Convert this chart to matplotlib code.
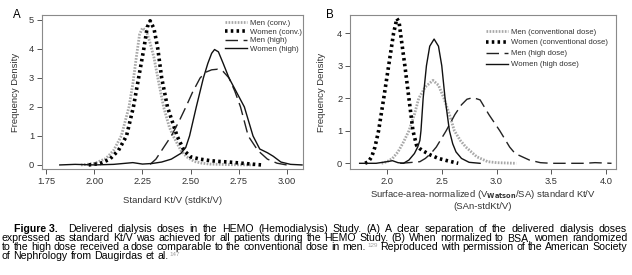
import matplotlib
matplotlib.use('Agg')
import matplotlib.pyplot as plt

plt.rcParams['font.family'] = ['Liberation Sans', 'DejaVu Sans']
plt.rcParams['mathtext.default'] = 'regular'

# ---- Panel A: standard Kt/V ----
a_men_conv_x = [1.93, 2.00, 2.06, 2.10, 2.14, 2.18, 2.20, 2.22, 2.235, 2.25, 2.27, 2.29,
                2.31, 2.33, 2.36, 2.39, 2.41, 2.45, 2.48, 2.52, 2.56, 2.60, 2.70, 2.83]
a_men_conv_y = [0.00, 0.05, 0.22, 0.50, 1.00, 2.00, 2.80, 3.80, 4.50, 4.72, 4.62, 4.20,
                3.70, 3.00, 2.00, 1.30, 1.00, 0.50, 0.28, 0.12, 0.06, 0.03, 0.01, 0.00]
a_women_conv_x = [1.97, 2.03, 2.08, 2.125, 2.167, 2.203, 2.23, 2.257, 2.275, 2.29, 2.31, 2.33,
                  2.35, 2.38, 2.43, 2.466, 2.50, 2.55, 2.60, 2.65, 2.70, 2.75, 2.80, 2.87]
a_women_conv_y = [0.00, 0.05, 0.20, 0.50, 1.00, 2.00, 3.00, 4.00, 4.75, 4.97, 4.70, 4.00,
                  3.00, 2.00, 1.00, 0.50, 0.28, 0.20, 0.15, 0.12, 0.10, 0.07, 0.04, 0.00]
a_men_high_x = [2.29, 2.32, 2.35, 2.40, 2.44, 2.476, 2.51, 2.55, 2.58, 2.61, 2.64, 2.67,
                2.70, 2.73, 2.76, 2.80, 2.85, 2.90, 2.95, 3.00]
a_men_high_y = [0.02, 0.20, 0.50, 1.00, 1.50, 2.00, 2.50, 3.00, 3.20, 3.28, 3.30, 3.22,
                3.00, 2.55, 2.00, 1.00, 0.50, 0.20, 0.06, 0.00]
a_women_high_x = [1.82, 1.90, 2.00, 2.10, 2.20, 2.25, 2.30, 2.35, 2.40, 2.45, 2.475, 2.495,
                  2.53, 2.567, 2.59, 2.61, 2.625, 2.645, 2.67, 2.70, 2.74, 2.78, 2.825, 2.86,
                  2.90, 2.93, 2.97, 3.02, 3.08]
a_women_high_y = [0.00, 0.02, 0.00, 0.02, 0.08, 0.03, 0.05, 0.10, 0.20, 0.40, 0.60, 1.00,
                  2.00, 3.00, 3.50, 3.85, 3.98, 3.90, 3.50, 3.00, 2.50, 2.00, 1.00, 0.55,
                  0.42, 0.30, 0.10, 0.02, 0.00]
a_labels = ['Men (conv.)', 'Women (conv.)', 'Men (high)', 'Women (high)']
a_xticks = [1.75, 2.00, 2.25, 2.50, 2.75, 3.00]
a_yticks = [0, 1, 2, 3, 4, 5]

# ---- Panel B: surface-area-normalized Kt/V ----
b_men_conv_x = [1.95, 2.00, 2.05, 2.10, 2.15, 2.20, 2.25, 2.29, 2.35, 2.42, 2.47, 2.52,
                2.57, 2.615, 2.67, 2.72, 2.82, 2.92, 3.00, 3.18]
b_men_conv_y = [0.00, 0.05, 0.15, 0.35, 0.65, 1.00, 1.50, 2.00, 2.35, 2.55, 2.40, 2.00,
                1.50, 1.00, 0.70, 0.50, 0.20, 0.05, 0.02, 0.00]
b_women_conv_x = [1.80, 1.83, 1.86, 1.89, 1.923, 1.97, 2.015, 2.06, 2.09, 2.11, 2.123, 2.163,
                  2.20, 2.237, 2.27, 2.30, 2.33, 2.40, 2.47, 2.55, 2.65]
b_women_conv_y = [0.00, 0.05, 0.20, 0.50, 1.00, 2.00, 3.00, 4.00, 4.45, 4.35, 4.00, 3.00,
                  2.00, 1.00, 0.55, 0.45, 0.38, 0.25, 0.15, 0.08, 0.00]
b_men_high_x = [2.12, 2.20, 2.30, 2.35, 2.40, 2.45, 2.54, 2.62, 2.68, 2.73, 2.785, 2.85,
                2.93, 3.03, 3.12, 3.17, 3.30, 3.40, 3.50, 3.80, 3.90, 4.05]
b_men_high_y = [0.00, 0.02, 0.05, 0.15, 0.30, 0.50, 1.00, 1.50, 1.80, 1.97, 2.02, 1.95,
                1.50, 1.00, 0.50, 0.30, 0.10, 0.02, 0.00, 0.00, 0.02, 0.00]
b_women_high_x = [1.75, 1.90, 2.00, 2.05, 2.10, 2.15, 2.20, 2.25, 2.28, 2.30, 2.31, 2.33,
                  2.36, 2.39, 2.43, 2.47, 2.50, 2.53, 2.57, 2.60, 2.63, 2.68, 2.75, 2.85]
b_women_high_y = [0.00, 0.00, 0.05, 0.08, 0.02, 0.00, 0.10, 0.30, 0.50, 0.70, 1.00, 2.00,
                  3.00, 3.60, 3.82, 3.60, 3.00, 2.00, 1.00, 0.60, 0.35, 0.15, 0.03, 0.00]
b_labels = ['Men (conventional dose)', 'Women (conventional dose)',
            'Men (high dose)', 'Women (high dose)']
b_xticks = [2.0, 2.5, 3.0, 3.5, 4.0]
b_yticks = [0, 1, 2, 3, 4]

# caption runs: (text, style) -> style in normal / bold / sup
caption_lines = [
    [('Figure 3.', 'bold'), ('Delivered dialysis doses in the HEMO (Hemodialysis) Study. (A) A clear '
                             'separation of the delivered dialysis doses', 'normal')],
    [('expressed as standard Kt/V was achieved for all patients during the HEMO Study. (B) When '
      'normalized to BSA, women randomized', 'normal')],
    [('to the high dose received a dose comparable to the conventional dose in men.', 'normal'),
     ('129', 'sup'), ('Reproduced with permission of the American Society', 'normal')],
    [('of Nephrology from Daugirdas et al.', 'normal'), ('147', 'sup')],
]

W, H = 632, 275
STYLES = [
    dict(color='#a8a8a8', lw=2.0, ls=(0, (0.6, 0.5))),
    dict(color='black', lw=2.6, ls=(0, (0.7, 0.9))),
    dict(color='#222222', lw=1.0, ls=(0, (9, 4))),
    dict(color='#111111', lw=1.0, ls='-'),
]


def style_axes(ax, xticks, yticks, xlim, ylim):
    ax.set_xlim(*xlim)
    ax.set_ylim(*ylim)
    ax.set_xticks(xticks)
    ax.set_yticks(yticks)
    for s in ax.spines.values():
        s.set_color('#8a8a8a')
        s.set_linewidth(0.8)
    ax.tick_params(length=3.5, width=0.7, color='#555555', labelsize=6.7,
                   labelcolor='#333333', pad=2)


def add_legend(ax, anchor, spacing):
    ax.legend(loc='upper left', bbox_to_anchor=anchor, frameon=False, fontsize=5.6,
              handlelength=2.8, handletextpad=0.4, labelspacing=spacing,
              borderaxespad=0, borderpad=0, labelcolor='#333333')


fig = plt.figure(figsize=(W / 100, H / 100), dpi=100)

# Panel A
axA = fig.add_axes([41.7 / W, 1 - 169 / H, 261.3 / W, 154 / H])
series_a = [(a_men_conv_x, a_men_conv_y), (a_women_conv_x, a_women_conv_y),
            (a_men_high_x, a_men_high_y), (a_women_high_x, a_women_high_y)]
for (xs, ys), st, lab in zip(series_a, STYLES, a_labels):
    axA.plot(xs, ys, label=lab, **st)
style_axes(axA, a_xticks, a_yticks, (1.726, 3.085), (-0.14, 5.17))
axA.xaxis.set_major_formatter(plt.FuncFormatter(lambda v, p: f'{v:.2f}'))
axA.set_ylabel('Frequency Density', fontsize=6.8, color='#333333', labelpad=6)
axA.set_xlabel('Standard Kt/V (stdKt/V)', fontsize=6.8, color='#333333', labelpad=7.5)
add_legend(axA, (0.701, 0.971), 0.17)

# Panel B
axB = fig.add_axes([350 / W, 1 - 169 / H, 266 / W, 154 / H])
series_b = [(b_men_conv_x, b_men_conv_y), (b_women_conv_x, b_women_conv_y),
            (b_men_high_x, b_men_high_y), (b_women_high_x, b_women_high_y)]
for (xs, ys), st, lab in zip(series_b, STYLES, b_labels):
    axB.plot(xs, ys, label=lab, **st)
style_axes(axB, b_xticks, b_yticks, (1.662, 4.091), (-0.175, 4.56))
axB.xaxis.set_major_formatter(plt.FuncFormatter(lambda v, p: f'{v:.1f}'))
axB.set_ylabel('Frequency Density', fontsize=6.8, color='#333333', labelpad=8)
axB.set_xlabel('Surface-area-normalized (V$_{\\bf Watson}$/SA) standard Kt/V\n(SAn-stdKt/V)',
               fontsize=6.8, color='#333333', labelpad=2, linespacing=1.15)
add_legend(axB, (0.511, 0.915), 0.45)

fig.text(13 / W, 1 - 17.5 / H, 'A', fontsize=8.3, color='black')
fig.text(326 / W, 1 - 17.5 / H, 'B', fontsize=8.3, color='black')

# ---- caption, justified line by line ----
renderer = fig.canvas.get_renderer()
CAP_FS = 7.6


def make_token(pieces, x, y):
    """Draw glued pieces starting at pixel x; return right edge in pixels."""
    for text, kind in pieces:
        kw = dict(fontsize=CAP_FS, color='black', va='baseline', ha='left')
        yy = y
        if kind == 'bold':
            kw['fontweight'] = 'bold'
        elif kind == 'sup':
            kw.update(fontsize=4.5, color='#a0a0a0')
            yy = y - 2.6
            x += 1.5
        t = fig.text(x / W, 1 - yy / H, text, **kw)
        x = t.get_window_extent(renderer).x1
    return x


def tokens_of(runs):
    toks = []
    for text, kind in runs:
        if kind == 'sup':
            toks[-1].append((text, kind))
        elif kind == 'bold':
            toks.append([(text, kind)])
        else:
            for w in text.split(' '):
                toks.append([(w, kind)])
    return toks


def token_width(tok):
    t = make_token(tok, 0, -100)
    # drop the measuring texts
    n = len(tok)
    for txt in fig.texts[-n:]:
        txt.remove()
    return t


baselines = [232.5, 241.3, 250.0, 258.8]
for i, runs in enumerate(caption_lines):
    toks = tokens_of(runs)
    x0 = 13.5 if i == 0 else 2.0
    x1 = 627.0
    widths = [token_width(t) for t in toks]
    weights = [1.0] * (len(toks) - 1)
    if i == 0:
        weights[0] = 2.2
    justify = i < len(caption_lines) - 1
    if justify:
        gap = (x1 - x0 - sum(widths)) / sum(weights)
    else:
        gap = 2.8
    x = x0
    for j, tok in enumerate(toks):
        make_token(tok, x, baselines[i])
        x += widths[j]
        if j < len(weights):
            x += gap * weights[j]

fig.savefig('out.png', dpi=100)
